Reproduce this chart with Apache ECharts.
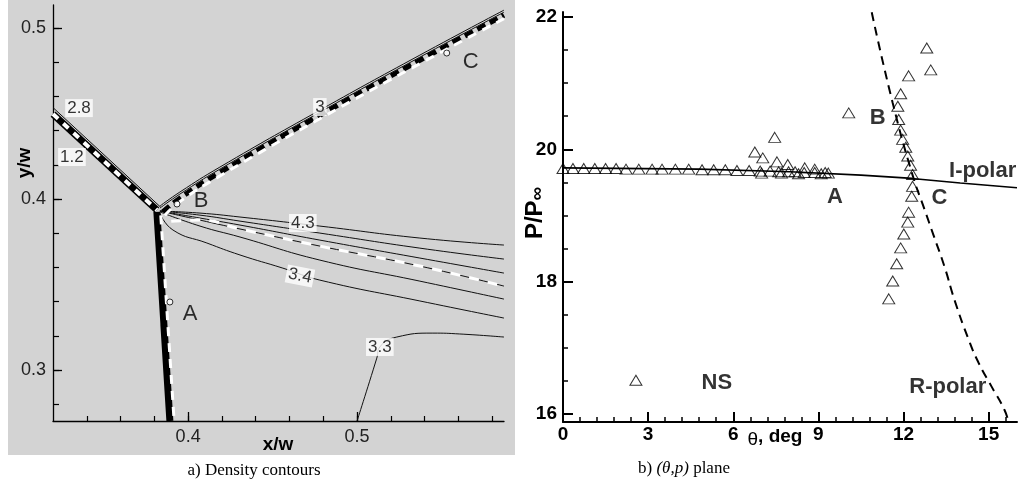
<!DOCTYPE html>
<html><head><meta charset="utf-8">
<script src="https://cdn.jsdelivr.net/npm/echarts@6/dist/echarts.min.js"></script>
<style>html,body{margin:0;padding:0;background:#fff}#c{width:1024px;height:485px}</style>
</head><body><div id="c"></div>
<script>
// ===== Panel a) Density contours, (x/w, y/w) =====
const aXTickLabels = [0.4, 0.5];
const aXMinorTicks = [0.34,0.36,0.38,0.40,0.42,0.44,0.46,0.48,0.50,0.52,0.54,0.56,0.58];
const aYTickLabels = [0.3, 0.4, 0.5];
const aYMinorTicks = [0.28,0.30,0.32,0.34,0.36,0.38,0.40,0.42,0.44,0.46,0.48,0.50];

const incidentShock   = [[0.320,0.4497],[0.3815,0.3936]];
const incidentContour = [[0.320,0.4535],[0.3838,0.3952]];
const machStem        = [[0.3815,0.3925],[0.3892,0.2702]];
const machStemWhite   = [[0.3838,0.3905],[0.3917,0.2702]];
const reflectedThinA  = [[0.3833,0.3959],[0.3951,0.4041],[0.4188,0.4187],[0.4780,0.4520],[0.5372,0.4842],[0.587,0.5105]];
const reflectedThinB  = [[0.3833,0.3947],[0.3951,0.4029],[0.4188,0.4175],[0.4780,0.4508],[0.5372,0.4830],[0.587,0.5093]];
const reflectedBlack  = [[0.3850,0.3925],[0.3951,0.4005],[0.4188,0.4155],[0.4780,0.4490],[0.5372,0.4812],[0.587,0.5075]];
const reflectedWhite  = [[0.3862,0.3905],[0.3951,0.3985],[0.4188,0.4135],[0.4780,0.4470],[0.5372,0.4792],[0.587,0.5055]];

const fan1 = [[0.3833,0.3930],[0.4070,0.3918],[0.4307,0.3895],[0.4780,0.3842],[0.5372,0.3772],[0.587,0.3731]];
const fan2 = [[0.3833,0.3930],[0.4070,0.3906],[0.4307,0.3871],[0.4780,0.3801],[0.5372,0.3713],[0.587,0.3649]];
const fan3 = [[0.3833,0.3930],[0.4070,0.3889],[0.4307,0.3848],[0.4780,0.3760],[0.5372,0.3655],[0.587,0.3567]];
const fan4 = [[0.3833,0.3930],[0.4070,0.3877],[0.4307,0.3825],[0.4780,0.3725],[0.5372,0.3608],[0.587,0.3491]];
const fan5 = [[0.3833,0.3925],[0.4070,0.3842],[0.4307,0.3778],[0.4780,0.3643],[0.5372,0.3520],[0.587,0.3415]];
const fan6 = [[0.3833,0.3918],[0.3910,0.3819],[0.4111,0.3743],[0.4307,0.3673],[0.4561,0.3596],[0.4780,0.3526],[0.5372,0.3404],[0.587,0.3304]];
const fanWhite = [[0.3900,0.3870],[0.4070,0.3877],[0.4307,0.3825],[0.4780,0.3725],[0.5372,0.3608],[0.5830,0.3500]];
const contour33 = [[0.5000,0.2702],[0.5117,0.3070],[0.5135,0.3135],[0.5235,0.3193],[0.5449,0.3216],[0.5608,0.3211],[0.587,0.3193]];

const aPoints = [[0.3892,0.3398],[0.3934,0.3971],[0.5531,0.4854]];
const aLetters = [[0.4011,0.3327,'A'],[0.4076,0.3988,'B'],[0.5673,0.4801,'C']];
const aContourLabels = [[0.3354,0.4532,'2.8'],[0.3312,0.4246,'1.2'],[0.4780,0.4538,'3'],[0.4679,0.3860,'4.3'],[0.5135,0.3135,'3.3']];
const aRotatedLabels = [[0.4662,0.3550,'3.4']];

// ===== Panel b) (theta, p) plane =====
const bXTickLabels = [0, 3, 6, 9, 12, 15];
const bXMinorTicks = [0.6,1.2,1.8,2.4,3.6,4.2,4.8,5.4,6.6,7.2,7.8,8.4,9.6,10.2,10.8,11.4,12.6,13.2,13.8,14.4,15.6];
const bYTickLabels = [16, 18, 20, 22];
const bYMinorTicks = [16.5,17,17.5,18.5,19,19.5,20.5,21,21.5];

const iPolar = [[0,19.72],[4.8,19.70],[8,19.66],[10.5,19.61],[12.3,19.56],[14,19.49],[16,19.42]];
const rPolar = [[10.88,22.07],[11.62,20.70],[12.32,19.61],[12.75,19.08],[13.06,18.70],[13.45,18.22],[13.80,17.72],[14.30,17.12],[14.65,16.77],[15.11,16.41],[15.56,16.06],[15.70,15.88]];

const nsFlat = [[0,19.71],[0.35,19.71],[0.73,19.71],[1.12,19.71],[1.5,19.71],[1.87,19.71],[2.22,19.70],[2.67,19.70],[3.14,19.70],[3.49,19.70],[3.96,19.70],[4.43,19.70],[4.9,19.69],[5.31,19.69],[5.72,19.69],[6.13,19.68],[6.56,19.68],[6.95,19.67],[7.3,19.67],[7.6,19.66],[7.95,19.66],[8.18,19.66],[8.5,19.65],[8.87,19.65],[9.24,19.65],[9.35,19.64],
  [7.0,19.64],[7.7,19.64],[8.3,19.63],[9.1,19.63]];
const nsScatter = [[6.76,19.96],[7.04,19.87],[7.46,20.18],[7.54,19.81],[7.92,19.77],[8.52,19.72],[8.87,19.70],[10.07,20.55]];
const nsBranch = [[12.82,21.53],[12.96,21.2],[12.18,21.11],[11.90,20.84],[11.80,20.65],[11.83,20.45],[11.90,20.29],[11.97,20.15],[12.08,20.03],[12.15,19.9],[12.25,19.76],[12.32,19.62],[12.32,19.44],[12.29,19.29],[12.18,19.05],[12.15,18.9],[12.01,18.72],[11.90,18.51],[11.76,18.27],[11.62,18.01],[11.48,17.74]];
const nsLone = [[2.57,16.51]];
const bLabels = [[5.42,16.47,'NS'],[13.56,16.41,'R-polar'],[14.79,19.67,'I-polar'],[9.58,19.28,'A'],[11.09,20.47,'B'],[13.27,19.26,'C']];

const chart = echarts.init(document.getElementById('c'));
const SANS = 'Liberation Sans, Arial, sans-serif';

function line(data, xi, w, color, dash, z, smooth) {
  return {type:'line', xAxisIndex:xi, yAxisIndex:xi, data:data, symbol:'none', smooth:!!smooth,
    lineStyle:{width:w, color:color, type:dash||'solid', cap:'butt'}, z:z||2, silent:true, animation:false};
}
function txt(data, xi, style, z) {
  return {type:'scatter', xAxisIndex:xi, yAxisIndex:xi, data:data, symbolSize:0, z:z||10, silent:true, animation:false,
    label:Object.assign({show:true, position:'inside', formatter:p=>p.value[2]}, style)};
}
function tri(data) {
  return {type:'scatter', xAxisIndex:2, yAxisIndex:2, data:data, symbol:'triangle', symbolSize:[12,10], z:5, animation:false,
    itemStyle:{color:'rgba(0,0,0,0)', borderColor:'#000', borderWidth:1}};
}
function axisMain(grid, min, max, ticks, labels, fmt, font, len, lw, margin) {
  return {type:'value', gridIndex:grid, min:min, max:max, splitLine:{show:false},
    axisLine:{show:true, onZero:false, lineStyle:{color:'#000', width:lw}},
    axisTick:{show:true, inside:true, length:len, customValues:ticks, lineStyle:{color:'#000', width:lw}},
    axisLabel:{show:true, customValues:labels, formatter:fmt, margin:margin, color:font.color||'#000', fontFamily:SANS, fontSize:font.size, fontWeight:font.weight}};
}
function axisMinor(grid, min, max, ticks, len, lw) {
  return {type:'value', gridIndex:grid, min:min, max:max, splitLine:{show:false},
    axisLine:{show:false, onZero:false}, axisLabel:{show:false},
    axisTick:{show:true, inside:true, length:len, customValues:ticks, lineStyle:{color:'#000', width:lw}}};
}

const option = {
  backgroundColor:'#fff',
  animation:false,
  grid:[
    {left:53, top:5, width:451, height:416},
    {left:563, top:12, width:454, height:410}
  ],
  xAxis:[
    Object.assign(axisMain(0, 0.32, 0.587, aXTickLabels, aXTickLabels, v=>v.toFixed(1), {size:18, weight:'normal', color:'#222'}, 9, 1.3, 7), {position:'bottom'}),
    Object.assign(axisMinor(0, 0.32, 0.587, aXMinorTicks, 5, 1.2), {position:'bottom'}),
    Object.assign(axisMain(1, 0, 16, bXTickLabels, bXTickLabels, v=>String(v), {size:19, weight:'bold'}, 10, 2, 3), {position:'bottom'}),
    Object.assign(axisMinor(1, 0, 16, bXMinorTicks, 5, 1.5), {position:'bottom'})
  ],
  yAxis:[
    Object.assign(axisMain(0, 0.2702, 0.5135, aYTickLabels, aYTickLabels, v=>v.toFixed(1), {size:18, weight:'normal', color:'#222'}, 9, 1.3, 7), {position:'left'}),
    Object.assign(axisMinor(0, 0.2702, 0.5135, aYMinorTicks, 6, 1.2), {position:'left'}),
    Object.assign(axisMain(1, 15.879, 22.075, bYTickLabels, bYTickLabels, v=>String(v), {size:19, weight:'bold'}, 10, 2, 6), {position:'left'}),
    Object.assign(axisMinor(1, 15.879, 22.075, bYMinorTicks, 5, 1.5), {position:'left'})
  ],
  graphic:[
    {type:'rect', z:-100, silent:true, shape:{x:8, y:0, width:507, height:455}, style:{fill:'#d3d3d3'}},
    {type:'text', silent:true, x:25, y:163, rotation:Math.PI/2, style:{text:'y/w', font:'bold 19px '+SANS, fill:'#000', align:'center', verticalAlign:'middle'}},
    {type:'text', silent:true, x:278, y:445, style:{text:'x/w', font:'bold 19px '+SANS, fill:'#000', align:'center', verticalAlign:'middle'}},
    {type:'text', silent:true, x:254, y:471, style:{text:'a) Density contours', font:'17px Liberation Serif, Times New Roman, serif', fill:'#000', align:'center', verticalAlign:'middle'}},
    {type:'text', silent:true, x:535, y:213, rotation:Math.PI/2, style:{text:'{m|P/P}{s|∞}', align:'center', verticalAlign:'middle',
      rich:{m:{font:'bold 24px '+SANS, fill:'#000'}, s:{font:'bold 19px '+SANS, fill:'#000', padding:[6,0,0,0]}}}},
    {type:'text', silent:true, x:775, y:437, style:{text:'{t|θ}{d|, deg}', align:'center', verticalAlign:'middle',
      rich:{t:{font:'19px '+SANS, fill:'#000', padding:[6,0,0,0]}, d:{font:'bold 19px '+SANS, fill:'#000'}}}},
    {type:'text', silent:true, x:684, y:469, style:{text:'{n|b) }{i|(θ,p)}{n| plane}', align:'center', verticalAlign:'middle',
      rich:{n:{font:'17px Liberation Serif, Times New Roman, serif', fill:'#000'}, i:{font:'italic 17px Liberation Serif, Times New Roman, serif', fill:'#000'}}}}
  ],
  series:[
    // panel a
    line(fan1,0,1,'#111',null,2,true),
    line(fan2,0,1,'#111',null,2,true),
    line(fan3,0,1,'#111',null,2,true),
    line(fan4,0,1,'#111',null,2,true),
    line(fan5,0,1,'#111',null,2,true),
    line(fan6,0,1,'#111',null,2,true),
    line(fanWhite,0,3,'#fff',[10,9],3,true),
    line(contour33,0,1,'#111',null,2,true),
    line(incidentContour,0,1,'#111',null,2),
    line(incidentShock,0,7,'#000',null,3),
    line(incidentShock,0,4,'#fff',[7,7],4),
    line(machStem,0,7,'#000',null,3),
    line(machStemWhite,0,3,'#fff',[9,7],4),
    line(reflectedThinA,0,1,'#111',null,2,true),
    line(reflectedThinB,0,1,'#111',null,2,true),
    line(reflectedBlack,0,5,'#000',[9,5],3,true),
    line(reflectedWhite,0,3,'#fff',[9,7],4,true),
    {type:'scatter', xAxisIndex:0, yAxisIndex:0, data:aPoints, symbol:'circle', symbolSize:6, z:6, animation:false,
      itemStyle:{color:'#fff', borderColor:'#000', borderWidth:1}},
    txt(aLetters,0,{fontSize:22, color:'#000', fontFamily:SANS}),
    txt(aContourLabels,0,{fontSize:17, color:'#000', fontFamily:SANS, backgroundColor:'#fff', padding:[1,2,0,2]}),
    txt(aRotatedLabels,0,{fontSize:17, color:'#000', fontFamily:SANS, backgroundColor:'#fff', padding:[1,2,0,2], rotate:-11}),
    // panel b
    line(iPolar,2,1.6,'#000',null,3),
    line(rPolar,2,2,'#000',[9,6],3,true),
    tri(nsFlat), tri(nsScatter), tri(nsBranch), tri(nsLone),
    txt(bLabels,2,{fontSize:22, fontWeight:'bold', color:'#000', fontFamily:SANS})
  ]
};
chart.setOption(option);
</script></body></html>
